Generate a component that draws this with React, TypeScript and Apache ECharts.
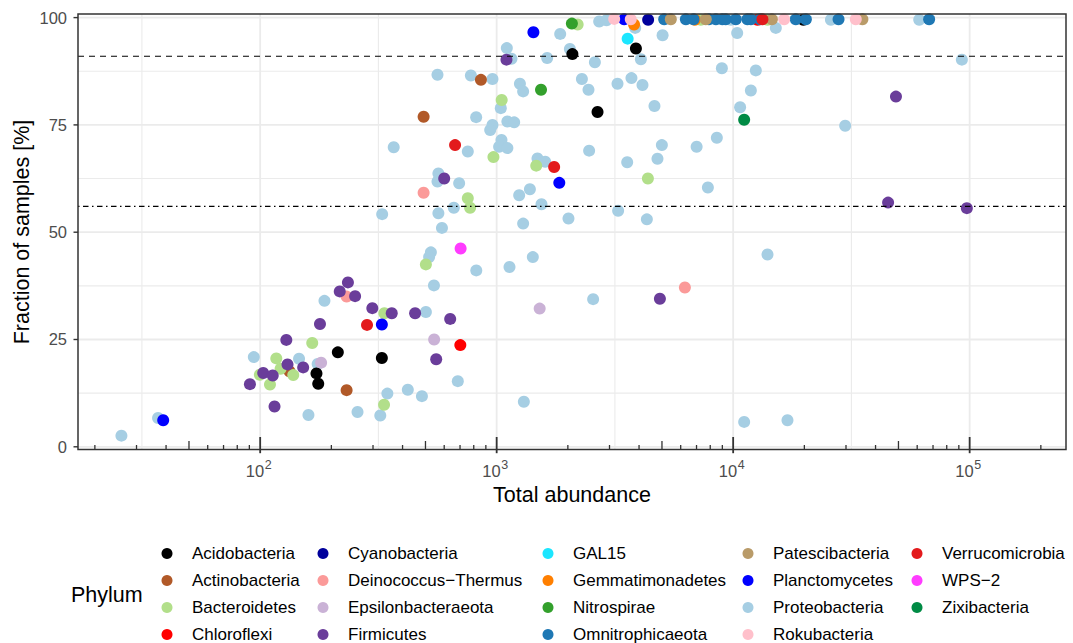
import React, { useEffect, useRef } from 'react';
import * as echarts from 'echarts';

const FONT = "'Liberation Sans', Arial, Helvetica, sans-serif";

// ---------- Data: [total abundance, fraction of samples %] ----------
const acidobacteria = [[173, 17.1], [176, 14.7], [213, 22.0], [327, 20.7], [2090, 91.5], [2670, 78.0], [3880, 92.8], [19800, 99.5]];
const actinobacteria = [[133, 17.6], [232, 13.2], [491, 76.9], [858, 85.5]];
const bacteroidetes = [[99.7, 16.8], [110, 14.5], [117, 20.6], [122, 18.2], [138, 16.7], [166, 24.2], [335, 31.1], [334, 9.8], [502, 42.5], [755, 57.9], [772, 55.7], [969, 67.5], [1050, 80.8], [1470, 65.5], [2200, 98.4], [4360, 62.5], [7300, 99.5], [13970, 99.5]];
const chloroflexi = [[702, 23.7], [12670, 99.5]];
const cyanobacteria = [[4370, 99.5]];
const deinococcus = [[232, 35.0], [491, 59.2], [6250, 37.1]];
const epsilonbacteraeota = [[181, 19.6], [544, 25.0], [1520, 32.2]];
const firmicutes = [[90.5, 14.6], [103, 17.2], [113, 16.6], [115, 9.4], [129, 24.9], [130.5, 19.2], [152, 18.5], [179, 28.6], [217, 36.2], [235, 38.3], [252, 35.1], [298, 32.3], [360, 31.1], [452, 31.1], [636, 29.8], [555, 20.4], [600, 62.5], [1100, 90.2], [4900, 34.5], [45200, 56.9], [48800, 81.6], [97300, 55.6]];
const gal15 = [[3580, 95.1]];
const gemmatimonadetes = [[3810, 98.4], [6890, 99.5]];
const nitrospirae = [[2080, 98.6], [1540, 83.2]];
const omnitrophicaeota = [[5110, 99.6], [6310, 99.6], [6800, 99.6], [7900, 99.6], [8450, 99.6], [9000, 99.6], [9300, 99.6], [10260, 99.6], [11490, 99.6], [11880, 99.6], [13000, 99.6], [18400, 99.6], [20300, 99.6], [27900, 99.6], [67400, 99.6]];
const patescibacteria = [[5450, 99.6], [7660, 99.6], [14580, 99.6], [35200, 99.6]];
const planctomycetes = [[38.9, 6.2], [327, 28.5], [1430, 96.6], [1840, 61.5], [3460, 99.6]];
const proteobacteria = [
  [25.9, 2.6], [37, 6.7], [94, 20.9], [146, 20.5], [160, 7.4], [187, 34.0], [175, 19.3], [258, 8.1], [322, 7.3], [345, 12.4],
  [421, 13.3], [483, 11.8], [502, 31.4], [527, 45.3], [518, 44.2], [543, 37.6], [587, 51.0], [567, 54.4], [562, 61.8], [567, 63.7],
  [562, 86.7], [685, 15.3], [659, 55.7], [694, 61.4], [755, 68.8], [778, 86.5], [819, 76.8], [820, 41.1], [960, 85.7], [960, 75.0],
  [939, 73.8], [1048, 71.5], [1024, 69.9], [1110, 69.6], [1041, 78.9], [1104, 92.9], [1155, 90.4], [1110, 75.8], [1186, 75.6], [1133, 41.9],
  [1254, 84.6], [1294, 82.8], [1245, 58.6], [1382, 60.0], [1294, 52.0], [1422, 44.2], [1303, 10.5], [1488, 67.2], [1604, 66.4], [1547, 56.5],
  [1635, 90.6], [1856, 96.2], [2012, 53.2], [2040, 92.7], [2293, 85.7], [2445, 83.2], [2460, 69.0], [2558, 34.4], [2602, 89.6], [2713, 99.1],
  [2913, 99.4], [3243, 84.6], [3263, 55.0], [3564, 66.3], [3715, 85.9], [3852, 97.6], [4072, 90.3], [4136, 84.3], [4316, 53.0], [4648, 79.4],
  [4786, 67.1], [4995, 70.3], [5030, 95.9], [7007, 69.9], [7818, 60.4], [8531, 72.0], [8960, 88.2], [10400, 96.4], [10700, 79.1], [11130, 5.8],
  [11880, 83.0], [12470, 87.7], [13970, 44.8], [15150, 97.6], [16970, 6.2], [29760, 74.8], [92700, 90.2], [25900, 99.5], [61200, 99.5], [9780, 99.5],
  [328, 54.2], [367, 69.8],
];
const rokubacteria = [[3140, 99.7], [3690, 99.6], [16430, 99.6], [33000, 99.6]];
const verrucomicrobia = [[283, 28.4], [667, 70.3], [1750, 65.2], [13300, 99.6]];
const wps2 = [[704, 46.2]];
const zixibacteria = [[11130, 76.2]];

const phyla = [
  'Acidobacteria', 'Actinobacteria', 'Bacteroidetes', 'Chloroflexi',
  'Cyanobacteria', 'Deinococcus−Thermus', 'Epsilonbacteraeota', 'Firmicutes',
  'GAL15', 'Gemmatimonadetes', 'Nitrospirae', 'Omnitrophicaeota',
  'Patescibacteria', 'Planctomycetes', 'Proteobacteria', 'Rokubacteria',
  'Verrucomicrobia', 'WPS−2', 'Zixibacteria',
];
const phylumColors = [
  '#000000', '#b15928', '#b2df8a', '#ff0000',
  '#00009c', '#fb9a99', '#cab2d6', '#6a3d9a',
  '#1ce6ff', '#ff7f00', '#33a02c', '#1f78b4',
  '#b99b69', '#0000ff', '#a6cee3', '#ffc0cb',
  '#e31a1c', '#ff3cff', '#008b45',
];
const phylumData = [
  acidobacteria, actinobacteria, bacteroidetes, chloroflexi,
  cyanobacteria, deinococcus, epsilonbacteraeota, firmicutes,
  gal15, gemmatimonadetes, nitrospirae, omnitrophicaeota,
  patescibacteria, planctomycetes, proteobacteria, rokubacteria,
  verrucomicrobia, wps2, zixibacteria,
];

// ---------- Axes ----------
const X_MIN = 16.97;
const X_MAX = 255500;
const Y_MIN = -0.63;
const Y_MAX = 100.84;
const xMajorGrid = [100, 1000, 10000, 100000];
const xMinorGrid = [31.62, 316.2, 3162, 31623];
const xLabelValues = [100, 1000, 10000, 100000];
const xLabelExponents = ['2', '3', '4', '5'];
const yTicks = [0, 25, 50, 75, 100];
const yTickLabels = ['0', '25', '50', '75', '100'];
const yMinorGrid = [12.5, 37.5, 62.5, 87.5];
const thresholds = [91, 56];
const decades = [10, 100, 1000, 10000, 100000];
const multipliers = [1, 2, 3, 4, 5, 6, 7, 8, 9];
const logTicks: number[][] = [];
decades.forEach((d) => multipliers.forEach((m) => {
  const v = d * m;
  if (v > X_MIN && v < X_MAX) logTicks.push([v, m === 1 ? 1 : m === 5 ? 2 : 3]);
}));

const legendColumns = [phyla.slice(0, 4), phyla.slice(4, 8), phyla.slice(8, 12), phyla.slice(12, 16), phyla.slice(16)];
const legendLefts = [161.5, 317.5, 542.5, 742.5, 911.5];

function vLineSeries(values: number[], color: string, width: number) {
  return {
    type: 'custom', silent: true, z: 1,
    data: values.map((v) => [v, 50]),
    renderItem: (params: any, api: any) => {
      const cs = params.coordSys;
      const x = api.coord([api.value(0), 50])[0];
      return { type: 'line', shape: { x1: x, y1: cs.y, x2: x, y2: cs.y + cs.height }, style: { stroke: color, lineWidth: width } };
    },
  };
}
function hLineSeries(values: number[], color: string, width: number, z: number) {
  return {
    type: 'custom', silent: true, z,
    data: values.map((v) => [1000, v]),
    renderItem: (params: any, api: any) => {
      const cs = params.coordSys;
      const y = api.coord([1000, api.value(1)])[1];
      return {
        type: 'line', shape: { x1: cs.x, y1: y, x2: cs.x + cs.width, y2: y },
        style: { stroke: color, lineWidth: width },
      };
    },
  };
}

function buildOption() {
  const series: any[] = [];
  series.push(vLineSeries(xMinorGrid, '#ebebeb', 1.1));
  series.push(vLineSeries(xMajorGrid, '#ebebeb', 1.8));
  series.push(hLineSeries(yMinorGrid, '#ebebeb', 1.1, 1));
  series.push(hLineSeries(yTicks, '#ebebeb', 1.8, 1));

  phyla.forEach((name, i) => {
    series.push({
      type: 'scatter', name, data: phylumData[i], symbol: 'circle', symbolSize: 12,
      itemStyle: { color: phylumColors[i], opacity: 1 },
      z: name === 'Proteobacteria' ? 2 : 3, silent: true, clip: false,
    });
  });

  // threshold lines
  series.push({
    type: 'custom', silent: true, z: 5,
    data: thresholds.map((v, i) => [1000, v, i]),
    renderItem: (params: any, api: any) => {
      const cs = params.coordSys;
      const y = api.coord([1000, api.value(1)])[1];
      const dash = api.value(2) === 0 ? [6, 5] : [1.5, 3.5, 5.5, 3.5];
      return { type: 'line', shape: { x1: cs.x, y1: y, x2: cs.x + cs.width, y2: y }, style: { stroke: '#000', lineWidth: 1.2, lineDash: dash } };
    },
  });

  // panel border
  series.push({
    type: 'custom', silent: true, z: 6, data: [[1000, 50]],
    renderItem: (params: any) => {
      const cs = params.coordSys;
      return { type: 'rect', shape: { x: cs.x, y: cs.y, width: cs.width, height: cs.height }, style: { fill: 'none', stroke: '#333333', lineWidth: 1.5 } };
    },
  });

  // log ticks on x axis
  series.push({
    type: 'custom', silent: true, z: 6, data: logTicks,
    renderItem: (params: any, api: any) => {
      const cs = params.coordSys;
      const x = api.coord([api.value(0), 50])[0];
      const kind = api.value(1);
      const b = cs.y + cs.height;
      const top = kind === 1 ? b - 12.5 : kind === 2 ? b - 8.5 : b - 4.5;
      const bottom = kind === 1 ? b + 3.7 : b;
      return { type: 'line', shape: { x1: x, y1: top, x2: x, y2: bottom }, style: { stroke: '#333333', lineWidth: kind === 1 ? 1.8 : 1.3 } };
    },
  });

  // y ticks + labels
  series.push({
    type: 'custom', silent: true, z: 6,
    data: yTicks.map((v, i) => [1000, v, i]),
    renderItem: (params: any, api: any) => {
      const cs = params.coordSys;
      const y = api.coord([1000, api.value(1)])[1];
      return {
        type: 'group',
        children: [
          { type: 'line', shape: { x1: cs.x - 4.5, y1: y, x2: cs.x, y2: y }, style: { stroke: '#333333', lineWidth: 1.4 } },
          { type: 'text', x: cs.x - 11, y, style: { text: yTickLabels[api.value(2)], fill: '#4d4d4d', fontSize: 16.5, fontFamily: FONT, align: 'right', verticalAlign: 'middle' } },
        ],
      };
    },
  });

  // x labels (10^k)
  series.push({
    type: 'custom', silent: true, z: 6,
    data: xLabelValues.map((v, i) => [v, 50, i]),
    renderItem: (params: any, api: any) => {
      const cs = params.coordSys;
      const x = api.coord([api.value(0), 50])[0];
      const b = cs.y + cs.height;
      return {
        type: 'group',
        children: [
          { type: 'text', x: x + 4, y: b + 21.5, style: { text: '10', fill: '#4d4d4d', fontSize: 16.5, fontFamily: FONT, align: 'right', verticalAlign: 'middle' } },
          { type: 'text', x: x + 4.5, y: b + 15, style: { text: xLabelExponents[api.value(2)], fill: '#4d4d4d', fontSize: 12.5, fontFamily: FONT, align: 'left', verticalAlign: 'middle' } },
        ],
      };
    },
  });

  return {
    animation: false,
    backgroundColor: '#ffffff',
    grid: { left: 78, right: 7, top: 14, bottom: 193.5, show: false },
    xAxis: { type: 'log', logBase: 10, min: X_MIN, max: X_MAX, show: false },
    yAxis: { type: 'value', min: Y_MIN, max: Y_MAX, show: false },
    legend: legendColumns.map((names, i) => ({
      orient: 'vertical', left: legendLefts[i], top: 545, padding: 0, itemGap: 10,
      itemWidth: 40, itemHeight: 11, icon: 'circle', selectedMode: false,
      data: names,
      textStyle: { fontSize: 17, color: '#000000', fontFamily: FONT, lineHeight: 17 },
    })),
    graphic: [
      { type: 'text', x: 572, y: 495, style: { text: 'Total abundance', fontSize: 21.5, fill: '#000', fontFamily: FONT, align: 'center', verticalAlign: 'middle' } },
      { type: 'text', x: 22, y: 232, rotation: Math.PI / 2, style: { text: 'Fraction of samples [%]', fontSize: 21.5, fill: '#000', fontFamily: FONT, align: 'center', verticalAlign: 'middle' } },
      { type: 'text', x: 71, y: 595, style: { text: 'Phylum', fontSize: 21.5, fill: '#000', fontFamily: FONT, align: 'left', verticalAlign: 'middle' } },
    ],
    series,
  };
}

export default function App() {
  const ref = useRef<HTMLDivElement>(null);
  useEffect(() => {
    if (!ref.current) return;
    const chart = echarts.init(ref.current, undefined, { renderer: 'svg' });
    chart.setOption(buildOption() as any);
    return () => chart.dispose();
  }, []);
  return (
    <div
      ref={ref}
      style={{ position: 'absolute', left: 0, top: 0, width: 1073, height: 643, background: '#ffffff' }}
    />
  );
}
